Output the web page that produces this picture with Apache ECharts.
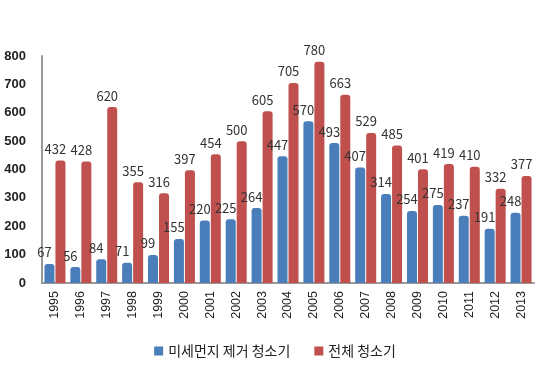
<!DOCTYPE html>
<html><head><meta charset="utf-8">
<script src="https://cdn.jsdelivr.net/npm/echarts@6/dist/echarts.min.js"></script>
<style>html,body{margin:0;padding:0;background:#fff}#c{width:550px;height:371px}</style>
</head><body><div id="c"></div>
<script>
const years = ['1995','1996','1997','1998','1999','2000','2001','2002','2003','2004','2005','2006','2007','2008','2009','2010','2011','2012','2013'];
const fineDust = [67,56,84,71,99,155,220,225,264,447,570,493,407,314,254,275,237,191,248];
const total = [432,428,620,355,316,397,454,500,605,705,780,663,529,485,401,419,410,332,377];
const yTicks = [0,100,200,300,400,500,600,700,800];
const names = ['미세먼지 제거 청소기','전체 청소기'];

const chart = echarts.init(document.getElementById('c'));
const lbl = {show:true, position:'top', offset:[-5,0], color:'#333', fontSize:13, fontFamily:'"Noto Sans CJK KR", sans-serif'};
chart.setOption({
  animation:false,
  grid:{left:42, right:16, top:56, bottom:88},
  legend:{bottom:8, left:'center', itemWidth:9, itemHeight:9, itemGap:24,
    textStyle:{fontSize:14, color:'#222', fontFamily:'"Noto Sans CJK KR", sans-serif'},
    data:names.map(n=>({name:n, icon:'rect'}))},
  xAxis:{type:'category', data:years,
    axisLine:{lineStyle:{color:'#999', width:2}}, axisTick:{show:false},
    axisLabel:{rotate:90, fontSize:12.5, color:'#222', margin:8}},
  yAxis:{type:'value', min:0, max:800, interval:100,
    axisLine:{show:true, lineStyle:{color:'#999', width:2}}, axisTick:{show:false},
    splitLine:{show:false},
    axisLabel:{fontSize:13, color:'#222', fontWeight:'bold', margin:16, align:'right',
      formatter:v=>yTicks.includes(v)?String(v):''}},
  series:[
    {name:names[0], type:'bar', data:fineDust, barWidth:10, barGap:'10%',
     itemStyle:{color:'#4a7ebb', borderRadius:[3,3,0,0]}, label:lbl},
    {name:names[1], type:'bar', data:total, barWidth:10,
     itemStyle:{color:'#c0504d', borderRadius:[3,3,0,0]}, label:lbl}
  ]
});
</script></body></html>
